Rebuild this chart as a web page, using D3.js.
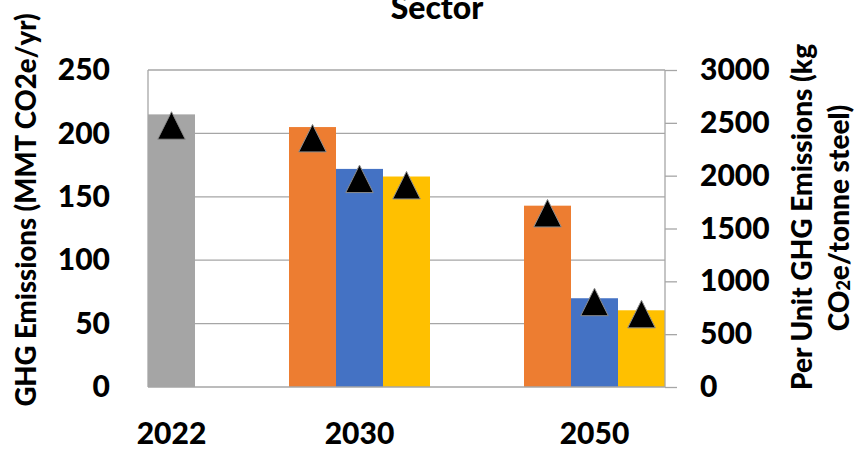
<!DOCTYPE html>
<html>
<head>
<meta charset="utf-8">
<script src="https://cdn.jsdelivr.net/npm/d3@7"></script>
<style>
  html, body { margin: 0; padding: 0; background: #ffffff; }
  svg { display: block; }
  text { font-family: Lato, "Open Sans", sans-serif; font-weight: 900; fill: #000; }
</style>
</head>
<body>
<svg id="chart" width="854" height="449"></svg>
<script>
// ---- data ----
const chartTitle = "Sector";
const categories = ["2022", "2030", "2050"];
const seriesNames = ["Baseline", "Scenario 1", "Scenario 2", "Scenario 3"];
const seriesColors = ["#a5a5a5", "#ed7d31", "#4472c4", "#ffc000"];
// which series appear in each category
const categorySeries = [["Baseline"], ["Scenario 1", "Scenario 2", "Scenario 3"], ["Scenario 1", "Scenario 2", "Scenario 3"]];
// sector GHG emissions (MMT CO2e/yr), left axis
const sectorEmissions = [[215], [205, 172, 166], [143, 70, 60.5]];
// per unit GHG emissions (kg CO2e/tonne steel), right axis
const perUnitEmissions = [[2475], [2355, 1970, 1910], [1645, 805, 690]];
const leftTicks = [0, 50, 100, 150, 200, 250];
const rightTicks = [0, 500, 1000, 1500, 2000, 2500, 3000];
const leftTitle = "GHG Emissions (MMT CO2e/yr)";
const gapSlots = 2;

// ---- layout ----
const svg = d3.select("#chart");
const plot = { left: 148, right: 665, top: 70, bottom: 387 };
const gridColor = "#a6a6a6";
const FW = 900;

// build slot list
const slots = [];
const groups = [];
categories.forEach((c, ci) => {
  if (ci > 0) for (let g = 0; g < gapSlots; g++) slots.push(`gap-${ci}-${g}`);
  const start = slots.length;
  categorySeries[ci].forEach((s) => { slots.push(`${c}-${s}`); });
  groups.push({ cat: c, first: slots[start], last: slots[slots.length - 1] });
});

const x = d3.scaleBand().domain(slots).range([plot.left, plot.right]).paddingInner(0).paddingOuter(0);
const yL = d3.scaleLinear().domain([0, 250]).range([plot.bottom, plot.top]);
const yR = d3.scaleLinear().domain([0, 3000]).range([plot.bottom, plot.top]);
const color = d3.scaleOrdinal().domain(seriesNames).range(seriesColors);

const bars = [];
categories.forEach((c, ci) => {
  categorySeries[ci].forEach((s, si) => {
    bars.push({ cat: c, series: s, slot: `${c}-${s}`, v: sectorEmissions[ci][si], u: perUnitEmissions[ci][si] });
  });
});

// gridlines
svg.append("g").selectAll("line").data(leftTicks.filter(t => t > 0)).join("line")
  .attr("x1", plot.left).attr("x2", plot.right)
  .attr("y1", d => yL(d)).attr("y2", d => yL(d))
  .attr("stroke", gridColor).attr("stroke-width", 1.3);

// bars
svg.append("g").selectAll("rect").data(bars).join("rect")
  .attr("x", d => x(d.slot)).attr("width", x.bandwidth())
  .attr("y", d => yL(d.v)).attr("height", d => yL(0) - yL(d.v))
  .attr("fill", d => color(d.series));

// axes lines
svg.append("line").attr("x1", plot.left).attr("x2", plot.left)
  .attr("y1", plot.top).attr("y2", plot.bottom).attr("stroke", gridColor).attr("stroke-width", 1.3);
svg.append("line").attr("x1", plot.right).attr("x2", plot.right)
  .attr("y1", plot.top).attr("y2", plot.bottom).attr("stroke", gridColor).attr("stroke-width", 1.3);
svg.append("line").attr("x1", plot.left).attr("x2", plot.right)
  .attr("y1", plot.bottom).attr("y2", plot.bottom).attr("stroke", gridColor).attr("stroke-width", 1.3);

// right axis with outward ticks
const rightAxis = d3.axisRight(yR).tickValues(rightTicks).tickSize(12).tickPadding(23).tickFormat(d3.format("d"));
const gR = svg.append("g").attr("transform", `translate(${plot.right},0)`).call(rightAxis);
gR.select(".domain").remove();
gR.selectAll(".tick line").attr("stroke", gridColor).attr("stroke-width", 1.3);
gR.selectAll(".tick text").attr("font-size", 30).attr("font-family", "Lato, sans-serif").attr("font-weight", FW).attr("fill", "#000");

// left axis labels (no ticks)
const leftAxis = d3.axisLeft(yL).tickValues(leftTicks).tickSize(0).tickPadding(38).tickFormat(d3.format("d"));
const gL = svg.append("g").attr("transform", `translate(${plot.left},0)`).call(leftAxis);
gL.select(".domain").remove();
gL.selectAll(".tick text").attr("font-size", 30).attr("font-family", "Lato, sans-serif").attr("font-weight", FW).attr("fill", "#000");

// triangle markers
svg.append("g").selectAll("path").data(bars).join("path")
  .attr("d", () => {
    const s = 27.5, h = 27.5;
    return `M0,${-h/2} L${s/2},${h/2} L${-s/2},${h/2} Z`;
  })
  .attr("transform", d => `translate(${x(d.slot) + x.bandwidth()/2},${yR(d.u)})`)
  .attr("fill", "#000").attr("stroke", "#8c8c8c").attr("stroke-width", 1);

// category labels
svg.append("g").selectAll("text").data(groups).join("text")
  .attr("x", d => (x(d.first) + x(d.last) + x.bandwidth()) / 2)
  .attr("y", 444)
  .attr("text-anchor", "middle")
  .attr("font-size", 30)
  .text(d => d.cat);

// title
svg.append("text").attr("x", 437).attr("y", 19).attr("text-anchor", "middle")
  .attr("font-size", 32).text(chartTitle);

// left axis title
svg.append("text").attr("transform", "translate(25,210) rotate(-90)")
  .attr("text-anchor", "middle").attr("dominant-baseline", "central")
  .attr("font-size", 27.5).text(leftTitle);

// right axis title (two lines)
svg.append("text").attr("transform", "translate(801,217) rotate(-90)")
  .attr("text-anchor", "middle").attr("dominant-baseline", "central")
  .attr("font-size", 28).text("Per Unit GHG Emissions (kg");
const rt2 = svg.append("text").attr("transform", "translate(838,218) rotate(-90)")
  .attr("text-anchor", "middle").attr("dominant-baseline", "central")
  .attr("font-size", 28);
rt2.append("tspan").text("CO");
rt2.append("tspan").attr("font-size", 18).attr("dy", 5).text("2");
rt2.append("tspan").attr("dy", -5).text("e/tonne steel)");
</script>
</body>
</html>
